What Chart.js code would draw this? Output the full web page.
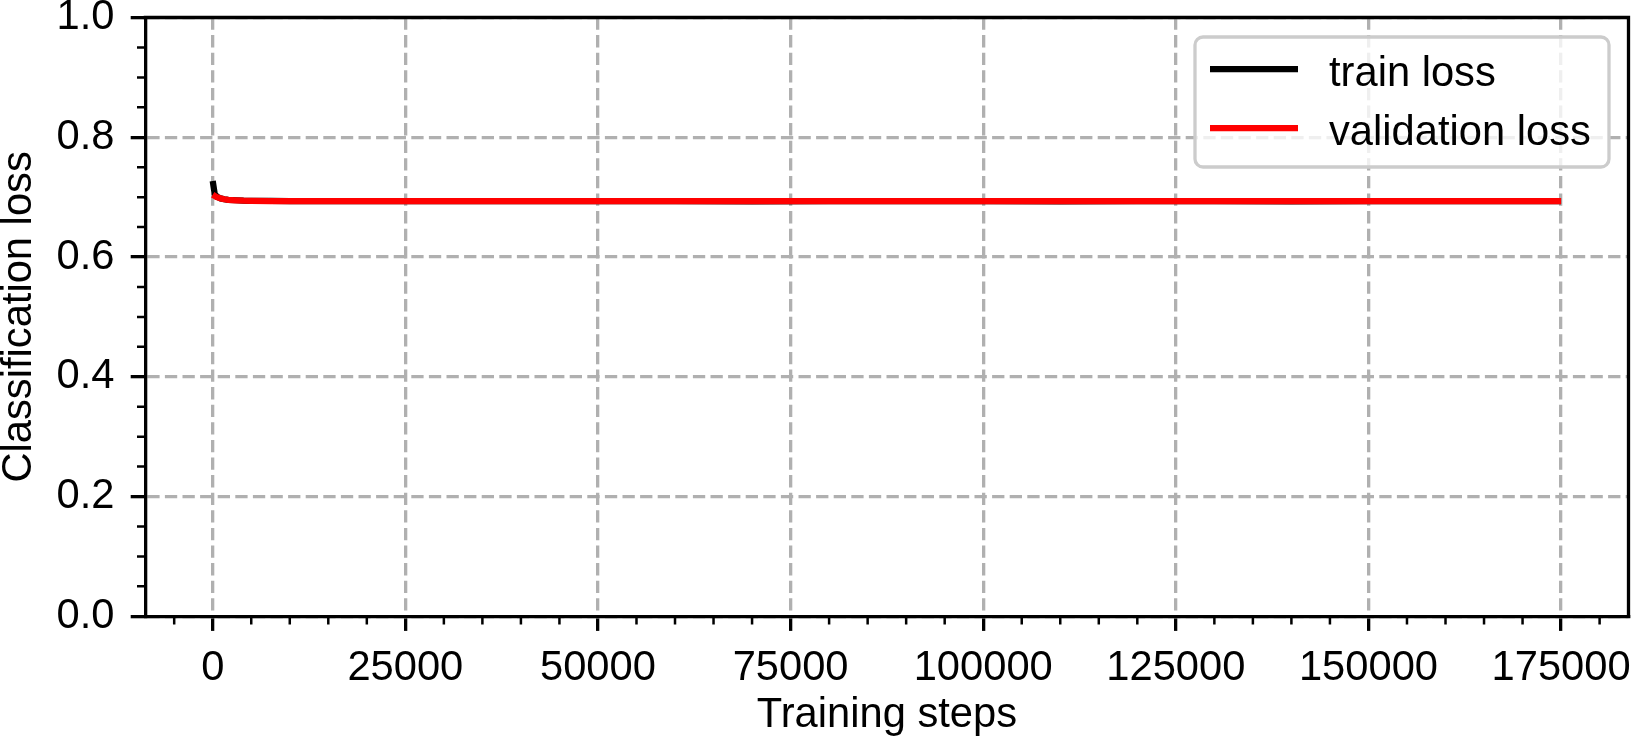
<!DOCTYPE html>
<html>
<head>
<meta charset="utf-8">
<script src="https://cdn.jsdelivr.net/npm/chart.js@4.4.1/dist/chart.umd.min.js"></script>
<style>
  html, body { margin: 0; padding: 0; background: #fff; }
  #wrap { width: 1633px; height: 741px; }
</style>
</head>
<body>
<div id="wrap"><canvas id="lossChart" width="1633" height="741"></canvas></div>
<script>
// training steps (x)
const steps = [0, 250, 500, 1000, 1500, 2000, 3000, 4000, 5000, 7500, 10000, 15000, 20000, 25000,
  30000, 40000, 50000, 60000, 70000, 80000, 90000, 100000, 110000, 120000, 130000, 140000,
  150000, 160000, 170000, 175000];
// losses
const trainLoss = [0.727, 0.706, 0.701, 0.698, 0.6965, 0.6955, 0.6948, 0.6942, 0.6939, 0.6936, 0.6934,
  0.6933, 0.6932, 0.6932, 0.6932, 0.6932, 0.6932, 0.6932, 0.6931, 0.6932, 0.6932, 0.6932, 0.6931,
  0.6932, 0.6932, 0.6931, 0.6932, 0.6932, 0.6932, 0.6932];
const valLoss = [0.704, 0.702, 0.700, 0.698, 0.6965, 0.6955, 0.6947, 0.6941, 0.6938, 0.6935, 0.6934,
  0.6933, 0.6932, 0.6932, 0.6932, 0.6932, 0.6932, 0.6932, 0.6932, 0.6932, 0.6932, 0.6932, 0.6932,
  0.6932, 0.6932, 0.6932, 0.6932, 0.6932, 0.6932, 0.6932];

const xTicks = [0, 25000, 50000, 75000, 100000, 125000, 150000, 175000];
const yTicks = [0.0, 0.2, 0.4, 0.6, 0.8, 1.0];
const xMinor = [-5000, 5000, 10000, 15000, 20000, 30000, 35000, 40000, 45000, 55000, 60000, 65000, 70000,
  80000, 85000, 90000, 95000, 105000, 110000, 115000, 120000, 130000, 135000, 140000, 145000,
  155000, 160000, 165000, 170000, 180000];
const yMinor = [0.05, 0.1, 0.15, 0.25, 0.3, 0.35, 0.45, 0.5, 0.55, 0.65, 0.7, 0.75, 0.85, 0.9, 0.95];

const FONT = { family: 'Liberation Sans', size: 41.7 };

// spines, minor ticks and the legend box, matplotlib style
const extras = {
  id: 'extras',
  afterDraw(chart) {
    const { ctx, chartArea: a, scales: { x, y } } = chart;
    ctx.save();
    ctx.strokeStyle = '#000';
    // minor ticks
    ctx.lineWidth = 2.5;
    ctx.beginPath();
    xMinor.forEach(v => {
      const px = x.getPixelForValue(v);
      ctx.moveTo(px, a.bottom); ctx.lineTo(px, a.bottom + 8.3);
    });
    yMinor.forEach(v => {
      const py = y.getPixelForValue(v);
      ctx.moveTo(a.left, py); ctx.lineTo(a.left - 8.3, py);
    });
    ctx.stroke();
    // top/right spines
    ctx.lineWidth = 3.3;
    ctx.beginPath();
    ctx.moveTo(a.left - 1.6, a.top); ctx.lineTo(a.right, a.top); ctx.lineTo(a.right, a.bottom + 1.6);
    ctx.stroke();

    // legend
    const bx = a.right - 433.5, by = a.top + 19.5, bw = 414, bh = 130;
    ctx.fillStyle = 'rgba(255,255,255,0.8)';
    ctx.strokeStyle = '#cccccc';
    ctx.lineWidth = 3.3;
    ctx.beginPath();
    ctx.roundRect(bx, by, bw, bh, 8);
    ctx.fill(); ctx.stroke();
    ctx.font = `${FONT.size}px ${FONT.family}`;
    ctx.textBaseline = 'alphabetic';
    ctx.textAlign = 'left';
    chart.data.datasets.forEach((ds, i) => {
      const ly = by + 32 + i * 59;
      ctx.strokeStyle = ds.borderColor;
      ctx.lineWidth = 6.25;
      ctx.beginPath();
      ctx.moveTo(bx + 15, ly); ctx.lineTo(bx + 103, ly);
      ctx.stroke();
      ctx.fillStyle = '#000';
      ctx.fillText(ds.label, bx + 134, ly + 17);
    });
    ctx.restore();
  }
};

const ctx = document.getElementById('lossChart').getContext('2d');
new Chart(ctx, {
  type: 'line',
  data: {
    datasets: [
      { label: 'train loss', data: steps.map((s, i) => ({ x: s, y: trainLoss[i] })),
        borderColor: '#000000', borderWidth: 6.25, pointRadius: 0, tension: 0, order: 1,
        borderCapStyle: 'butt', borderJoinStyle: 'round' },
      { label: 'validation loss', data: steps.map((s, i) => ({ x: s, y: valLoss[i] })),
        borderColor: '#ff0000', borderWidth: 6.25, pointRadius: 0, tension: 0, order: 0,
        borderCapStyle: 'butt', borderJoinStyle: 'round' }
    ]
  },
  options: {
    responsive: false,
    animation: false,
    devicePixelRatio: 1,
    layout: { padding: { left: 0, right: 4.5, top: 17.5, bottom: 0 } },
    plugins: { legend: { display: false }, tooltip: { enabled: false } },
    scales: {
      x: {
        type: 'linear',
        min: -8750, max: 183750,
        afterBuildTicks: s => { s.ticks = xTicks.map(v => ({ value: v })); },
        afterFit: s => { s.height = 124.7; s.paddingLeft = 0; s.paddingRight = 0; },
        ticks: { color: '#000', font: FONT, padding: 13, maxRotation: 0, autoSkip: false,
          callback: v => String(v) },
        grid: { color: '#b0b0b0', lineWidth: 3.3, tickColor: '#000', tickWidth: 3.3, tickLength: 14.6 },
        border: { display: true, color: '#000', width: 3.3, dash: [12.3, 5.3] },
        title: { display: true, text: 'Training steps', color: '#000', font: FONT, padding: 0 }
      },
      y: {
        min: 0, max: 1,
        afterBuildTicks: s => { s.ticks = yTicks.map(v => ({ value: v })); },
        afterFit: s => { s.width = 145.3; s.paddingTop = 0; s.paddingBottom = 0; },
        ticks: { color: '#000', font: FONT, padding: 16.3, callback: v => Number(v).toFixed(1) },
        grid: { color: '#b0b0b0', lineWidth: 3.3, tickColor: '#000', tickWidth: 3.3, tickLength: 14.6 },
        border: { display: true, color: '#000', width: 3.3, dash: [12.3, 5.3] },
        title: { display: true, text: 'Classification loss', color: '#000', font: FONT, padding: { top: -6, bottom: 0 } }
      }
    }
  },
  plugins: [extras]
});
</script>
</body>
</html>
